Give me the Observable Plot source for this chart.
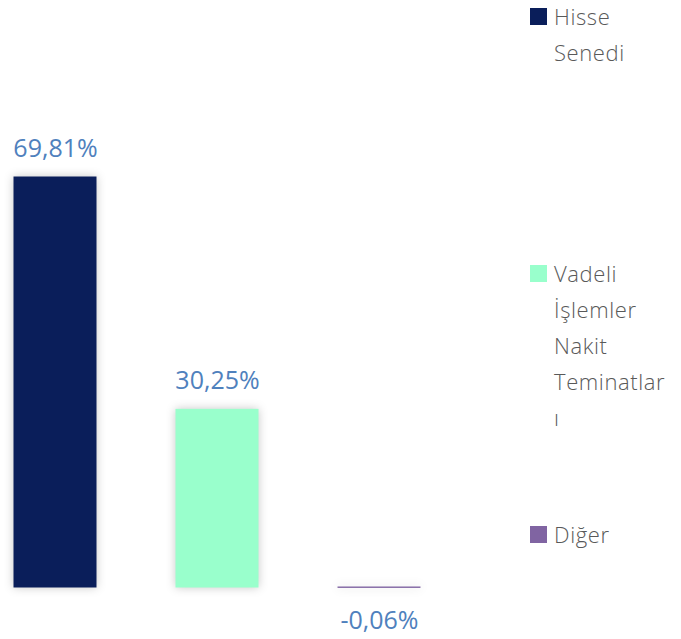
<!DOCTYPE html>
<html>
<head>
<meta charset="utf-8">
<script src="https://cdn.jsdelivr.net/npm/d3@7"></script>
<script src="https://cdn.jsdelivr.net/npm/@observablehq/plot@0.6"></script>
<style>
  html, body { margin: 0; padding: 0; background: #fff; }
  #wrap { position: relative; width: 681px; height: 639px; overflow: hidden; font-family: "Open Sans", Lato, sans-serif; }
  #wrap svg g[aria-label="bar"] rect { filter: drop-shadow(0 0 5px rgba(0,0,0,0.22)); }
  .leg { position: absolute; left: 530px; font-family: "Open Sans", Lato, sans-serif; font-weight: 300; font-size: 22px; letter-spacing: 0.6px; color: #595959; line-height: 22px; }
  .leg .sw { position: absolute; left: 0; top: 3px; width: 17px; height: 17px; }
  .leg .tx { margin-left: 24px; white-space: nowrap; }
  .leg .ln { height: 22px; margin-bottom: 14px; }
  .leg .ln:last-child { margin-bottom: 0; }
</style>
</head>
<body>
<div id="wrap"></div>
<script>
const categories = ["Hisse Senedi", "Vadeli İşlemler Nakit Teminatları", "Diğer"];
const values = [69.81, 30.25, -0.06];
const labels = ["69,81%", "30,25%", "-0,06%"];
const colors = ["#0a1e5a", "#99ffcc", "#8064a2"];
const legendLines = [["Hisse", "Senedi"], ["Vadeli", "İşlemler", "Nakit", "Teminatlar", "ı"], ["Diğer"]];

const data = categories.map((c, i) => ({cat: c, value: values[i], label: labels[i], color: colors[i]}));

const chart = Plot.plot({
  width: 681,
  height: 639,
  marginLeft: 0,
  marginRight: 248,
  marginTop: 0,
  marginBottom: 0,
  x: {domain: categories, paddingInner: 0.495, paddingOuter: 0.08, axis: null},
  y: {domain: [-8.854, 99.95], axis: null},
  marks: [
    Plot.barY(data, {x: "cat", y: "value", fill: "color", stroke: "color", strokeWidth: 1}),
    Plot.text(data.filter(d => d.value >= 0), {x: "cat", y: "value", text: "label", lineAnchor: "bottom", dy: -21, fill: "#4f81bd", fontSize: 25, fontFamily: "'Open Sans', sans-serif"}),
    Plot.text(data.filter(d => d.value < 0), {x: "cat", y: 0, text: "label", lineAnchor: "top", dy: 24, fill: "#4f81bd", fontSize: 25, fontFamily: "'Open Sans', sans-serif"})
  ]
});
const wrap = document.getElementById("wrap");
wrap.appendChild(chart);

const legendTops = [5, 262, 523];
legendLines.forEach((lines, i) => {
  const item = document.createElement("div");
  item.className = "leg";
  item.style.top = legendTops[i] + "px";
  const sw = document.createElement("div");
  sw.className = "sw";
  sw.style.background = colors[i];
  item.appendChild(sw);
  const tx = document.createElement("div");
  tx.className = "tx";
  lines.forEach(l => {
    const ln = document.createElement("div");
    ln.className = "ln";
    ln.textContent = l;
    tx.appendChild(ln);
  });
  item.appendChild(tx);
  wrap.appendChild(item);
});
</script>
</body>
</html>
